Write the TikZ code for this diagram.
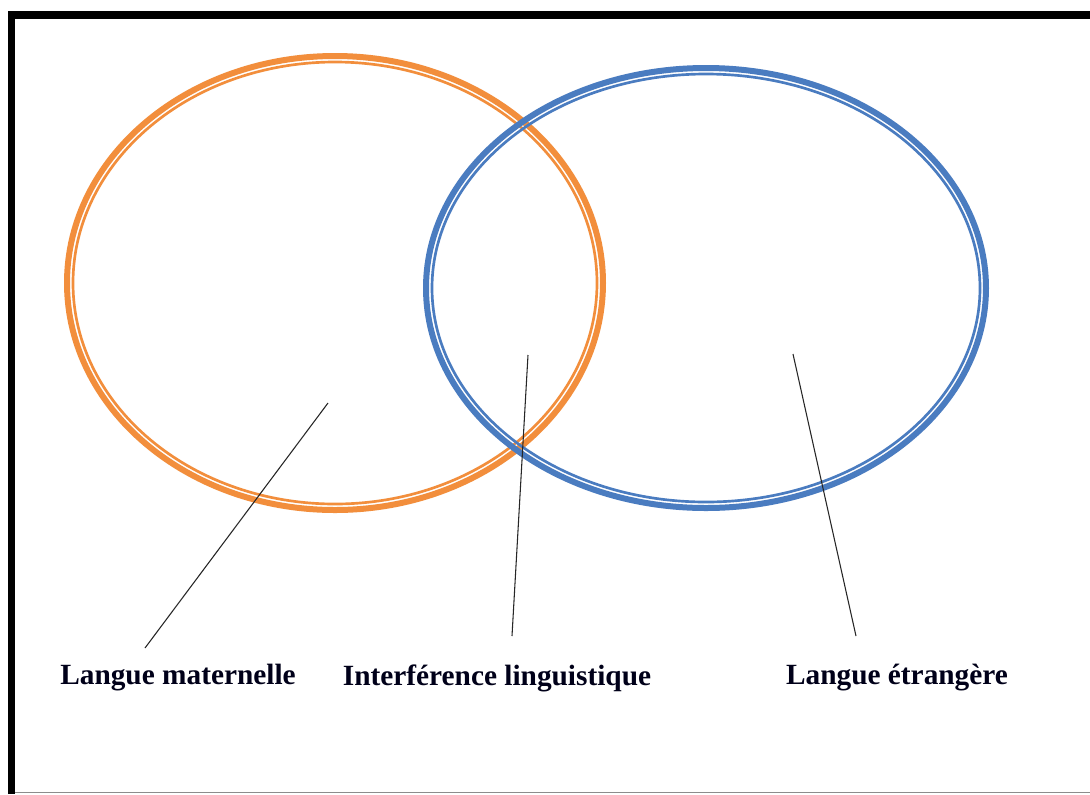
\documentclass[tikz,border=0pt]{standalone}
\usepackage{fontspec}
\setmainfont{Liberation Serif}
\begin{document}
\begin{tikzpicture}[x=0.75pt,y=-0.75pt,
  ringthick/.style={line width=4.5pt},
  ringthin/.style={line width=2pt},
  pointer/.style={draw=black!85,line width=0.8pt},
  label/.style={font=\fontsize{22}{26}\selectfont\bfseries,text=black!90!blue,inner sep=0pt}]
\definecolor{ringorange}{HTML}{F28E3C}
\definecolor{ringblue}{HTML}{4A7CC0}
\useasboundingbox (0,0) rectangle (1090,794);
\fill[white] (0,0) rectangle (1090,794);
% frame
\draw[line width=5.4pt] (11.5,794) -- (11.5,15) -- (1090,15);
\draw[black!45,line width=1pt] (15,792.5) -- (1090,792.5);
% mother tongue ring
\draw[ringorange,ringthick] (335,283) ellipse [x radius=268,y radius=227];
\draw[ringorange,ringthin] (335,283) ellipse [x radius=262,y radius=221];
% foreign language ring
\draw[ringblue,ringthick] (706,288) ellipse [x radius=280,y radius=220];
\draw[ringblue,ringthin] (706,288) ellipse [x radius=274,y radius=214];
% labels
\node[label] (lm) at (178,678) {Langue maternelle};
\node[label] (il) at (497,678) {Interférence linguistique};
\node[label] (le) at (897,678) {Langue étrangère};
% pointer ends
\coordinate (a1) at (328,403);
\coordinate (b1) at (145,648);
\coordinate (a2) at (528,355);
\coordinate (b2) at (512,636);
\coordinate (a3) at (793,354);
\coordinate (b3) at (856,636);
\draw[pointer] (a1) -- (b1);
\draw[pointer] (a2) -- (b2);
\draw[pointer] (a3) -- (b3);
\end{tikzpicture}
\end{document}
